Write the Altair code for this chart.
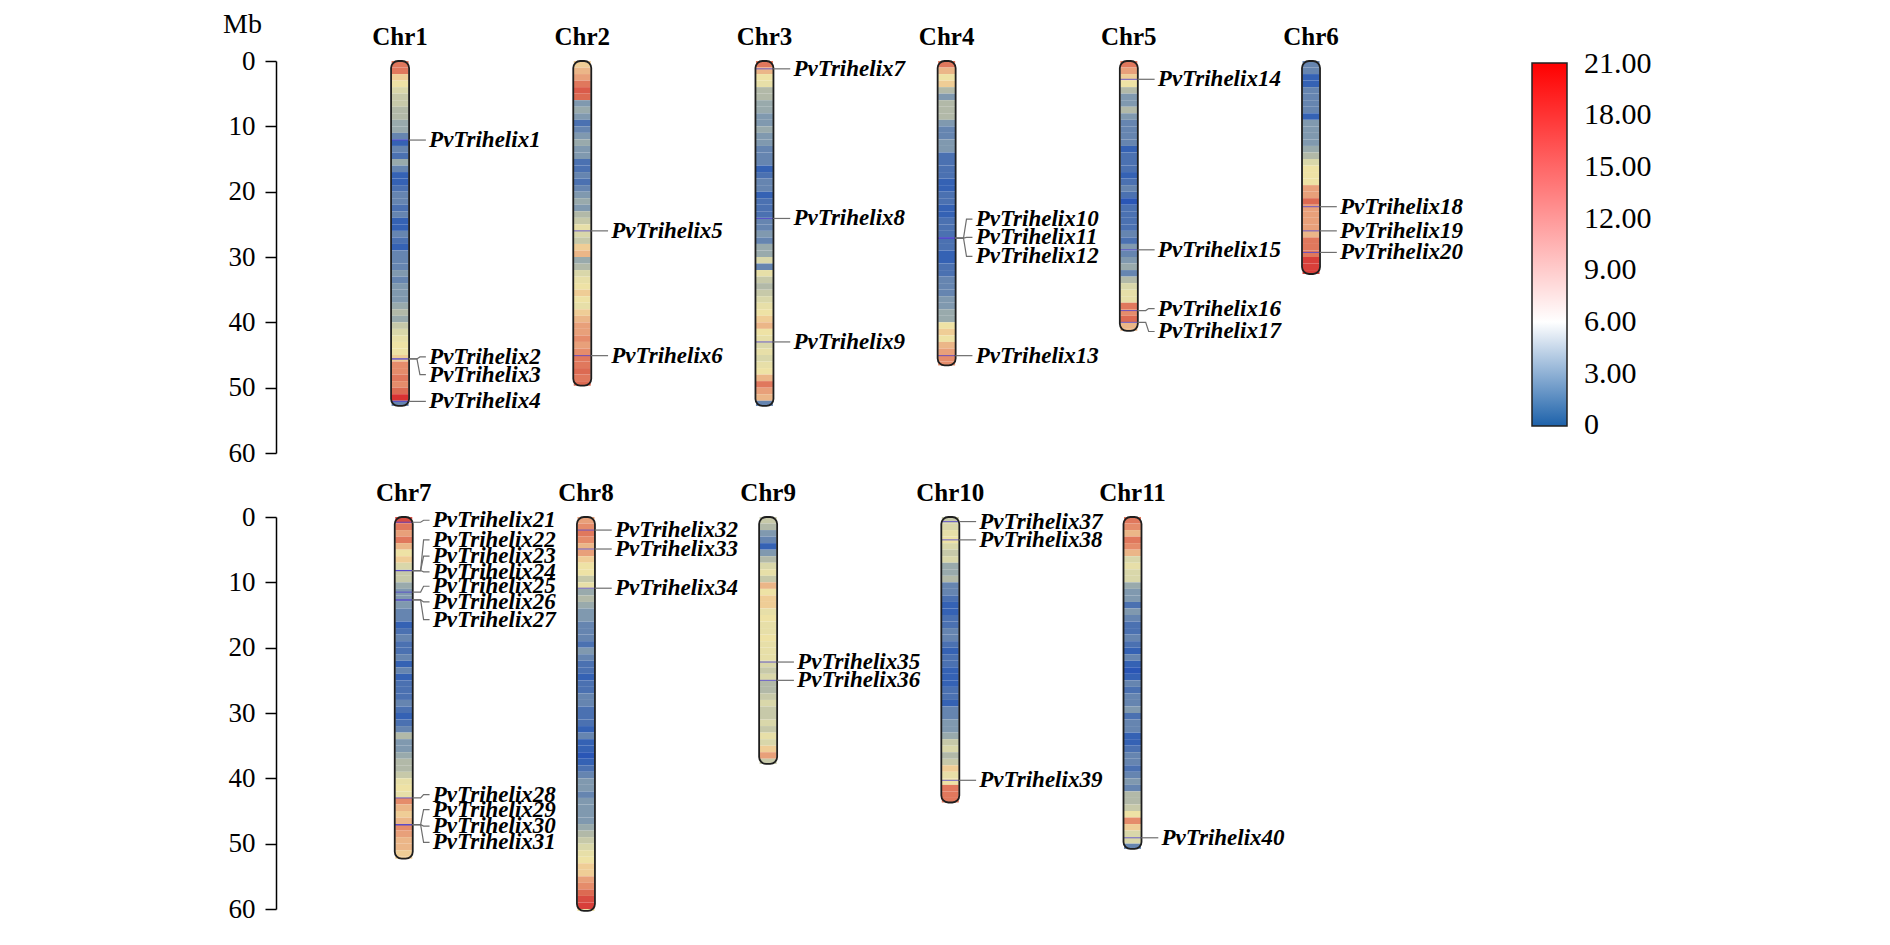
import altair as alt
import pandas as pd

FONT = "Liberation Serif"

# ---------------- data ----------------
chrom_names = ["Chr1", "Chr2", "Chr3", "Chr4", "Chr5", "Chr6",
               "Chr7", "Chr8", "Chr9", "Chr10", "Chr11"]
chrom_row = [0, 0, 0, 0, 0, 0, 1, 1, 1, 1, 1]
chrom_slot = [0, 1, 2, 3, 4, 5, 0, 1, 2, 3, 4]
chrom_len = [52.8, 49.7, 52.8, 46.6, 41.3, 32.6, 52.3, 60.3, 37.8, 43.7, 50.8]

# gene density per 1-Mb bin
chr1_density = [15, 15, 11, 10, 8, 7, 7, 6, 6, 5, 5, 3, 1, 3, 2, 5, 3, 1, 1, 2, 3, 3, 2, 3, 1, 1,
                3, 2, 1, 3, 3, 3, 4, 3, 4, 4, 4, 5, 6, 5, 7, 8, 9, 10, 10, 11, 14, 14, 15, 14, 16, 20, 3]
chr2_density = [11, 12, 13, 15, 17, 16, 4, 5, 4, 2, 3, 4, 5, 4, 4, 2, 2, 3, 2, 3, 4, 5, 4, 6, 7,
                9, 8, 7, 11, 12, 5, 6, 8, 9, 10, 11, 10, 9, 11, 12, 13, 13, 14, 13, 14, 15, 15, 16, 15, 16]
chr3_density = [15, 12, 10, 9, 6, 6, 5, 5, 4, 4, 5, 4, 4, 3, 3, 3, 1, 2, 3, 3, 1, 2, 2, 2, 3, 3,
                4, 3, 5, 5, 8, 3, 9, 7, 6, 7, 8, 9, 10, 11, 12, 10, 9, 8, 9, 8, 9, 10, 12, 15, 13, 12, 3]
chr4_density = [15, 12, 10, 11, 6, 4, 6, 6, 6, 4, 3, 3, 4, 4, 2, 2, 2, 2, 1, 1, 2, 2, 1, 1,
                2, 2, 2, 2, 2, 1, 1, 2, 2, 3, 3, 3, 4, 4, 5, 5, 10, 11, 10, 12, 13, 14, 14]
chr5_density = [15, 13, 11, 10, 6, 4, 4, 6, 4, 3, 3, 3, 3, 1, 2, 2, 2, 1, 2, 3, 2, 0,
                2, 2, 2, 2, 3, 2, 4, 3, 4, 5, 3, 6, 8, 9, 9, 15, 14, 16, 12, 12]
chr6_density = [3, 3, 1, 1, 3, 3, 3, 3, 1, 4, 4, 4, 4, 5, 6, 8, 10, 10, 10, 13, 13, 16,
                13, 13, 13, 13, 12, 15, 15, 15, 19, 19, 19]
chr7_density = [18, 15, 13, 15, 12, 10, 11, 8, 7, 7, 5, 4, 4, 4, 3, 3, 1, 2, 3, 2, 2, 3, 1, 3, 1, 2,
                2, 2, 3, 2, 1, 2, 3, 6, 4, 4, 5, 6, 6, 7, 9, 10, 9, 14, 12, 11, 12, 14, 13, 12, 12, 11, 11]
chr8_density = [13, 14, 15, 14, 12, 13, 11, 10, 10, 7, 9, 5, 6, 5, 4, 4, 3, 3, 3, 2, 4, 3, 2, 2, 1,
                2, 2, 3, 3, 2, 2, 2, 1, 3, 1, 1, 0, 1, 2, 3, 4, 4, 3, 4, 4, 4, 4, 5, 6, 7,
                8, 9, 10, 11, 11, 13, 14, 16, 18, 19, 10]
chr9_density = [7, 6, 4, 3, 1, 4, 6, 8, 9, 7, 12, 10, 11, 11, 9, 10, 9, 9, 10, 9, 9, 9, 8, 7, 8,
                6, 6, 7, 8, 7, 7, 8, 7, 9, 8, 11, 13, 7]
chr10_density = [7, 8, 9, 10, 8, 7, 8, 5, 5, 6, 3, 3, 2, 1, 1, 2, 2, 3, 3, 2, 1, 2, 2, 1, 1, 1,
                 2, 2, 1, 3, 3, 4, 4, 5, 7, 8, 6, 7, 11, 9, 10, 15, 15, 15]
chr11_density = [15, 14, 12, 15, 14, 12, 8, 9, 8, 8, 5, 4, 4, 2, 4, 3, 2, 2, 3, 2, 1, 3, 1, 0, 1,
                 3, 2, 3, 3, 4, 2, 3, 3, 1, 1, 2, 3, 3, 2, 3, 4, 3, 6, 6, 7, 10, 14, 11, 8, 8, 3]
density_lists = [chr1_density, chr2_density, chr3_density, chr4_density, chr5_density, chr6_density,
                 chr7_density, chr8_density, chr9_density, chr10_density, chr11_density]

gene_names = ["PvTrihelix%d" % i for i in range(1, 41)]
gene_chrom = ["Chr1"] * 4 + ["Chr2"] * 2 + ["Chr3"] * 3 + ["Chr4"] * 4 + ["Chr5"] * 4 + ["Chr6"] * 3 + \
             ["Chr7"] * 11 + ["Chr8"] * 3 + ["Chr9"] * 2 + ["Chr10"] * 3 + ["Chr11"]
gene_pos = [12.1, 45.6, 45.6, 52.1, 26.0, 45.1, 1.2, 24.1, 43.0, 27.1, 27.1, 27.1, 45.1,
            2.8, 28.9, 38.2, 40.0, 22.3, 26.0, 29.3,
            0.8, 8.2, 8.2, 8.2, 11.5, 12.7, 12.7, 43.0, 47.1, 47.1, 47.1,
            2.0, 4.9, 10.9, 22.2, 25.0, 0.7, 3.5, 40.3, 49.1]
gene_label_pos = [12.1, 45.3, 48.0, 52.1, 26.0, 45.1, 1.2, 24.1, 43.0, 24.2, 27.0, 29.9, 45.1,
                  2.8, 28.9, 37.9, 41.4, 22.3, 26.0, 29.3,
                  0.5, 3.5, 6.0, 8.4, 10.6, 13.0, 15.7, 42.5, 44.8, 47.3, 49.8,
                  2.0, 4.9, 10.9, 22.2, 25.0, 0.7, 3.5, 40.3, 49.1]

legend_ticks = [0, 3, 6, 9, 12, 15, 18, 21]
axis_ticks = [0, 10, 20, 30, 40, 50, 60]

# colour styling
band_stops = [0, 1, 2, 3, 4, 5, 6, 7, 8, 9, 10, 11, 12, 13, 14, 15, 16, 18, 20]
band_colors = ["#2a56b6", "#3562b4", "#4b71b1", "#6685b0", "#8099af", "#99aaac", "#b2b9a8",
               "#c7c9a9", "#d9d7aa", "#e7dfa8", "#eee2a5", "#efcd96", "#ebb688", "#e8a07a",
               "#e58c6b", "#e0785d", "#dc6a52", "#d84c42", "#d83232"]
legend_stops = [-0.05, 6, 21.05]
legend_colors = ["#1d62aa", "#ffffff", "#ff0000"]

# ---------------- layout (pixels) ----------------
SLOT_PX = 183.6
FIRST_PX = [120.0, 123.7]
PANEL_W = 1300
PANEL_H = 392
CHR_W = 17
LEADER_PX = [8.7, 17.0, 20.0, 26.0]

# ---------------- tables ----------------
band_rows = []
for i, name in enumerate(chrom_names):
    for k, v in enumerate(density_lists[i]):
        band_rows.append(dict(chrom=name, row=chrom_row[i], slot=chrom_slot[i],
                              start=float(k), end=min(k + 1.0, chrom_len[i]), density=v))
bands_df = pd.DataFrame(band_rows)

chrom_df = pd.DataFrame(dict(chrom=chrom_names, row=chrom_row, slot=chrom_slot,
                             length=chrom_len, top=[0.0] * len(chrom_names)))

slot_of = dict(zip(chrom_names, chrom_slot))
row_of = dict(zip(chrom_names, chrom_row))
genes_df = pd.DataFrame(dict(gene=gene_names, chrom=gene_chrom, pos=gene_pos, label_pos=gene_label_pos))
genes_df["slot"] = genes_df["chrom"].map(slot_of)
genes_df["row"] = genes_df["chrom"].map(row_of)

leader_rows = []
for _, g in genes_df.iterrows():
    ys = [g["pos"], g["pos"], g["label_pos"], g["label_pos"]]
    for k, (px, yv) in enumerate(zip(LEADER_PX, ys)):
        leader_rows.append(dict(gene=g["gene"], row=g["row"], k=k,
                                lx=g["slot"] + px / SLOT_PX, ly=yv))
leader_df = pd.DataFrame(leader_rows)

legend_df = pd.DataFrame(dict(val=legend_ticks))

band_scale = alt.Scale(domain=band_stops, range=band_colors, interpolate="rgb")
legend_scale = alt.Scale(domain=legend_stops, range=legend_colors, interpolate="rgb")
yscale = alt.Scale(domain=[0, 60], reverse=True, nice=False, zero=False)


def panel(r):
    xscale = alt.Scale(domain=[-FIRST_PX[r] / SLOT_PX, (PANEL_W - FIRST_PX[r]) / SLOT_PX],
                       nice=False, zero=False)
    axis_kw = dict(values=axis_ticks, tickSize=11, tickWidth=1.5,
                   tickColor="black", domainColor="black", domainWidth=1.5, grid=False,
                   labelFont=FONT, labelFontSize=27, labelColor="black", labelPadding=10)
    if r == 0:
        yaxis = alt.Axis(title="Mb", titleAngle=0, titleFont=FONT, titleFontSize=28,
                         titleFontWeight="normal", titleColor="black", titleAlign="center",
                         titleBaseline="alphabetic", titleX=-34, titleY=-29, **axis_kw)
    else:
        yaxis = alt.Axis(title="", **axis_kw)

    def Y(field):
        return alt.Y(field, scale=yscale, axis=yaxis)

    def X(field):
        return alt.X(field, scale=xscale, axis=None)

    b = bands_df[bands_df.row == r]
    c = chrom_df[chrom_df.row == r]
    g = genes_df[genes_df.row == r]
    ld = leader_df[leader_df.row == r]

    bands = alt.Chart(b).mark_bar(size=CHR_W).encode(
        x=X("slot:Q"), y=Y("start:Q"), y2="end:Q",
        color=alt.Color("density:Q", scale=band_scale, legend=None),
    )
    ticks = alt.Chart(g).mark_tick(orient="horizontal", size=CHR_W, thickness=1,
                                   color="#5548cc", opacity=0.85).encode(
        x=X("slot:Q"), y=Y("pos:Q"),
    )
    outline = alt.Chart(c).mark_bar(size=CHR_W + 1, filled=False, stroke="#1e1e1e",
                                    strokeWidth=1.8, cornerRadius=7).encode(
        x=X("slot:Q"), y=Y("top:Q"), y2="length:Q",
    )
    leaders = alt.Chart(ld).mark_line(color="#6e6e6e", strokeWidth=1.2).encode(
        x=X("lx:Q"), y=Y("ly:Q"), detail="gene:N", order="k:Q",
    )
    labels = alt.Chart(g).mark_text(align="left", baseline="middle", dx=29, font=FONT,
                                    fontSize=23, fontStyle="italic", fontWeight="bold",
                                    color="black").encode(
        x=X("slot:Q"), y=Y("label_pos:Q"), text="gene:N",
    )
    titles = alt.Chart(c).mark_text(baseline="middle", dy=-24, font=FONT, fontSize=25,
                                    fontWeight="bold", color="black").encode(
        x=X("slot:Q"), y=Y("top:Q"), text="chrom:N",
    )
    layers = [bands, ticks, outline, leaders, labels, titles]
    if r == 0:
        leg = alt.Chart(legend_df).mark_point(opacity=0, size=1).encode(
            x=alt.value(600), y=alt.value(200),
            color=alt.Color("val:Q", scale=legend_scale, legend=alt.Legend(
                title=None, orient="none", legendX=1256, legendY=2, direction="vertical",
                gradientLength=363, gradientThickness=35, gradientStrokeColor="#222222",
                gradientStrokeWidth=1.5, values=legend_ticks,
                labelExpr="datum.value === 0 ? '0' : format(datum.value, '.2f')",
                labelFont=FONT, labelFontSize=30, labelColor="black", labelOffset=17)),
        )
        layers.append(leg)
    return alt.layer(*layers).resolve_scale(color="independent").properties(
        width=PANEL_W, height=PANEL_H)


chart = alt.vconcat(panel(0), panel(1), spacing=64, bounds="flush").resolve_scale(
    color="independent").properties(
    padding={"left": 214, "top": 2, "right": 5, "bottom": 5}
).configure_view(stroke=None)

chart.save("out.html", embed_options={"renderer": "svg", "actions": False})
